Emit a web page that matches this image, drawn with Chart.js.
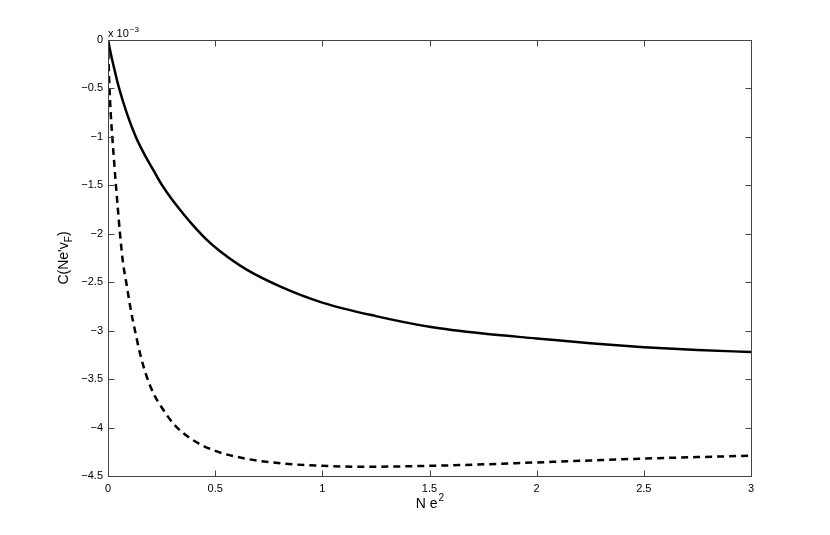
<!DOCTYPE html>
<html>
<head>
<meta charset="utf-8">
<script src="https://cdn.jsdelivr.net/npm/chart.js@4.4.1/dist/chart.umd.min.js"></script>
<style>
  html, body { margin: 0; padding: 0; background: #fff; }
  #wrap { width: 830px; height: 535px; position: relative; }
</style>
</head>
<body>
<div id="wrap"><canvas id="chart"></canvas></div>
<script>
// Solid curve (N e^2 vs C, in units of 1e-3)
const solidX = [0, 0.02, 0.052, 0.09, 0.13, 0.17, 0.211, 0.25, 0.305, 0.35, 0.398, 0.46, 0.523, 0.647, 0.81, 1.0, 1.25, 1.5, 1.75, 2.0, 2.25, 2.5, 2.75, 3.0];
const solidY = [0, -0.21, -0.5, -0.77, -1.0, -1.18, -1.34, -1.49, -1.665, -1.79, -1.915, -2.06, -2.18, -2.37, -2.55, -2.71, -2.85, -2.96, -3.03, -3.08, -3.13, -3.17, -3.2, -3.22];

// Dashed curve
const dashX = [0, 0.003, 0.007, 0.013, 0.02, 0.028, 0.037, 0.046, 0.056, 0.07, 0.085, 0.105, 0.126, 0.15, 0.18, 0.215, 0.25, 0.305, 0.39, 0.5, 0.64, 0.81, 1.0, 1.2, 1.5, 1.75, 2.0, 2.25, 2.5, 2.75, 3.0];
const dashY = [0, -0.25, -0.5, -0.77, -1.0, -1.24, -1.5, -1.74, -2.0, -2.3, -2.5, -2.77, -3.0, -3.24, -3.47, -3.66, -3.79, -3.96, -4.12, -4.24, -4.32, -4.37, -4.395, -4.405, -4.395, -4.38, -4.36, -4.34, -4.32, -4.305, -4.29];

// Axis ranges and tick steps
const xRange = [0, 3];
const yRange = [-4.5, 0];
const xStep = 0.5;
const yStep = 0.5;

const FONT = "'Liberation Sans', Arial, Helvetica, sans-serif";

function toPoints(xs, ys) {
  return xs.map((x, i) => ({ x: x, y: ys[i] }));
}

function fmt(v) {
  const s = String(Math.round(v * 100) / 100);
  return s.replace("-", "\u2212");
}

// Draws the box, inward ticks on all four sides and the axis titles
const framePlugin = {
  id: "frame",
  afterDraw(chart) {
    const ctx = chart.ctx;
    const a = chart.chartArea;
    const xs = chart.scales.x;
    const ys = chart.scales.y;
    const L = Math.round(a.left) + 0.5;
    const R = Math.round(a.right) + 0.5;
    const T = Math.round(a.top) + 0.5;
    const B = Math.round(a.bottom) + 0.5;
    ctx.save();
    ctx.strokeStyle = "#444";
    ctx.lineWidth = 1;
    ctx.strokeRect(L, T, R - L, B - T);
    ctx.beginPath();
    xs.ticks.forEach((t) => {
      const px = Math.round(xs.getPixelForValue(t.value)) + 0.5;
      ctx.moveTo(px, B); ctx.lineTo(px, B - 6);
      ctx.moveTo(px, T); ctx.lineTo(px, T + 6);
    });
    ys.ticks.forEach((t) => {
      const py = Math.round(ys.getPixelForValue(t.value)) + 0.5;
      ctx.moveTo(L, py); ctx.lineTo(L + 6, py);
      ctx.moveTo(R, py); ctx.lineTo(R - 6, py);
    });
    ctx.stroke();

    ctx.fillStyle = "#000";
    ctx.textBaseline = "alphabetic";

    // exponent label above the y axis
    ctx.font = "11px " + FONT;
    ctx.textAlign = "left";
    ctx.fillText("x 10", a.left, a.top - 3);
    const w1 = ctx.measureText("x 10").width;
    ctx.font = "8px " + FONT;
    ctx.fillText("\u22123", a.left + w1 + 1, a.top - 8);

    // x title: N e^2
    const cx = (a.left + a.right) / 2;
    ctx.font = "14px " + FONT;
    const base = "N e";
    const wb = ctx.measureText(base).width;
    ctx.font = "10px " + FONT;
    const ws = ctx.measureText("2").width;
    const x0 = cx - (wb + ws) / 2;
    ctx.font = "14px " + FONT;
    ctx.fillText(base, x0, 508);
    ctx.font = "10px " + FONT;
    ctx.fillText("2", x0 + wb + 1, 501);

    // y title: C(Ne'v_F) rotated
    ctx.translate(68, (a.top + a.bottom) / 2);
    ctx.rotate(-Math.PI / 2);
    ctx.font = "14px " + FONT;
    const p1 = "C(Ne'v";
    const w1y = ctx.measureText(p1).width;
    ctx.font = "10px " + FONT;
    const wF = ctx.measureText("F").width;
    ctx.font = "14px " + FONT;
    const w3 = ctx.measureText(")").width;
    const start = -(w1y + wF + w3) / 2;
    ctx.fillText(p1, start, 0);
    ctx.font = "10px " + FONT;
    ctx.fillText("F", start + w1y, 4);
    ctx.font = "14px " + FONT;
    ctx.fillText(")", start + w1y + wF, 0);
    ctx.restore();
  },
};

new Chart(document.getElementById("chart"), {
  type: "line",
  data: {
    datasets: [
      {
        label: "solid",
        data: toPoints(solidX, solidY),
        borderColor: "#000",
        borderWidth: 2.5,
        pointRadius: 0,
        fill: false,
        cubicInterpolationMode: "monotone",
      },
      {
        label: "dashed",
        data: toPoints(dashX, dashY),
        borderColor: "#000",
        borderWidth: 2.5,
        borderDash: [7, 5],
        pointRadius: 0,
        fill: false,
        cubicInterpolationMode: "monotone",
      },
    ],
  },
  options: {
    responsive: true,
    maintainAspectRatio: false,
    animation: false,
    layout: { padding: { left: 0, right: 79, top: 40, bottom: 0 } },
    plugins: { legend: { display: false }, tooltip: { enabled: false } },
    scales: {
      x: {
        type: "linear",
        min: xRange[0],
        max: xRange[1],
        grid: { display: false, drawTicks: false },
        border: { display: false },
        ticks: {
          stepSize: xStep,
          padding: 6,
          color: "#000",
          font: { family: FONT, size: 11 },
          maxRotation: 0,
          callback: (v) => fmt(v),
        },
        afterFit: (s) => { s.height = 59; },
      },
      y: {
        type: "linear",
        min: yRange[0],
        max: yRange[1],
        grid: { display: false, drawTicks: false },
        border: { display: false },
        ticks: {
          stepSize: yStep,
          padding: 5,
          color: "#000",
          font: { family: FONT, size: 11 },
          callback: (v) => fmt(v),
        },
        afterFit: (s) => { s.width = 108; },
      },
    },
  },
  plugins: [framePlugin],
});
</script>
</body>
</html>
